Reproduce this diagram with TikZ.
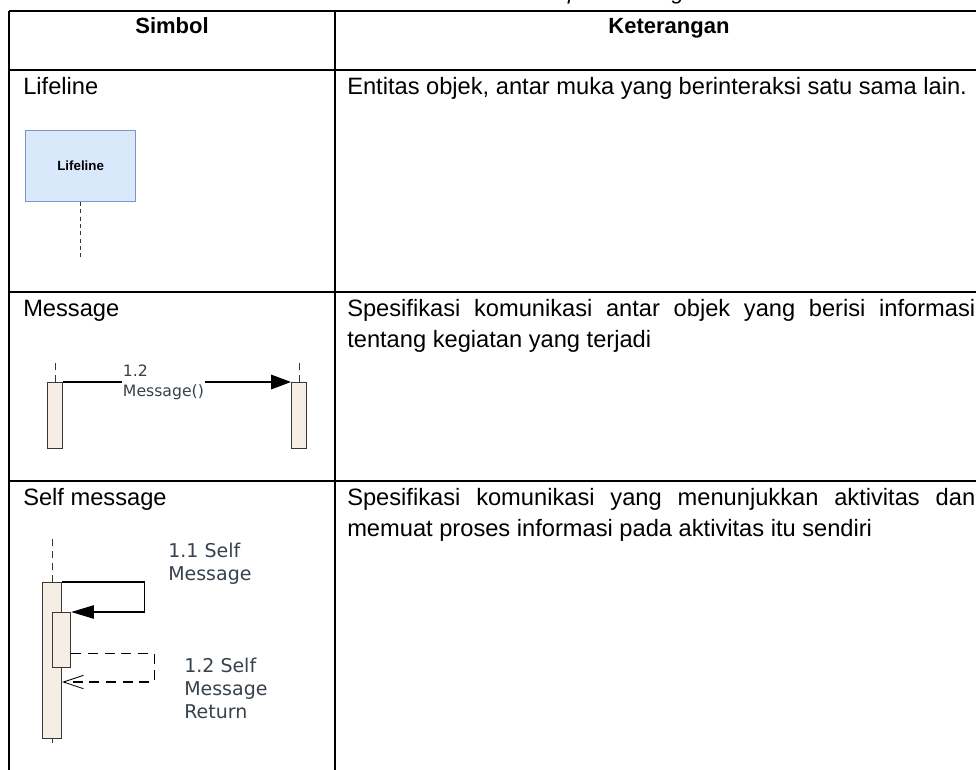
\documentclass[tikz,border=0pt]{standalone}
\usepackage{fontspec}
\setmainfont{Liberation Sans}
\newfontfamily\umlfont{DejaVu Sans}
\usetikzlibrary{arrows.meta,calc}
\definecolor{llfill}{RGB}{218,232,252}
\definecolor{lldraw}{RGB}{120,150,200}
\definecolor{actfill}{RGB}{246,238,228}
\definecolor{actdraw}{RGB}{55,55,55}
\definecolor{msgtext}{RGB}{55,65,75}

\begin{document}
\begin{tikzpicture}[x=0.75pt,y=0.75pt,yscale=-1,xscale=1,
    grid/.style={line width=1.6pt},
    cell/.style={anchor=base west,inner sep=0pt,font=\fontsize{17.75}{23.25}\selectfont},
    desc/.style={cell,text width=471pt,align=justify},
    actbar/.style={draw=actdraw,fill=actfill,line width=0.9pt,inner sep=0pt,anchor=north west},
    lifedash/.style={draw=actdraw,dash pattern=on 5pt off 4pt,line width=0.8pt},
    msglabel/.style={inner sep=0.75pt,text=msgtext,align=left}]
        \useasboundingbox (0,0) rectangle (976,769);
        % Caption, cut by the top edge
        \draw (580,-1) node (caption) [anchor=base][inner sep=0pt] [font=\fontsize{16.5}{20}\selectfont\itshape] {Tabel 2.4 Sequence Diagram};
        %Table rules
        \draw [grid] (9,11) -- (1003,11) ;
        \draw [grid] (9,70) -- (1003,70) ;
        \draw [grid] (9,292) -- (1003,292) ;
        \draw [grid] (9,481) -- (1003,481) ;
        \draw [grid] (9,11) -- (9,780) ;
        \draw [grid] (335,11) -- (335,780) ;
        % Header
        \draw (172,33) node (hsimbol) [cell,anchor=base] [font=\fontsize{16.5}{20}\selectfont\bfseries] {Simbol};
        \draw (669,33) node (hket) [cell,anchor=base] [font=\fontsize{16.5}{20}\selectfont\bfseries] {Keterangan};
        % Row: Lifeline
        \draw (23,94) node (tlifeline) [cell] {Lifeline};
        \draw (347,94) node (dlifeline) [desc] {Entitas objek, antar muka yang berinteraksi satu sama lain.};
        \draw (25,130) node (llbox) [draw=lldraw,fill=llfill,line width=1pt,anchor=north west,minimum width=82.5pt,minimum height=53pt] [font=\fontsize{10}{12}\selectfont\bfseries] {Lifeline};
        \draw [lifedash,dash pattern=on 3pt off 2.5pt] (llbox.south) -- ++(0,58) coordinate (llend) ;
        % Row: Message
        \draw (23,316) node (tmessage) [cell] {Message};
        \draw (347,316) node (dmessage) [desc] {Spesifikasi komunikasi antar objek yang berisi informasi\linebreak tentang kegiatan yang terjadi};
        \draw (47,382) node (lbar) [actbar,minimum width=11.25pt,minimum height=49.5pt] {};
        \draw (291,382) node (rbar) [actbar,minimum width=11.25pt,minimum height=49.5pt] {};
        \draw [lifedash] (lbar.north) -- ++(0,-22) ;
        \draw [lifedash] (rbar.north) -- ++(0,-22) ;
        \draw [line width=0.9pt,-{Triangle[length=15pt,width=11pt]}] (lbar.north east) -- (rbar.north west)
            node (msg) [msglabel,fill=white,pos=0.44] [font=\umlfont\fontsize{11.75}{15}\selectfont] {1.2\\Message()};
        % Row: Self message
        \draw (23,505) node (tself) [cell] {Self message};
        \draw (347,505) node (dself) [desc] {Spesifikasi komunikasi yang menunjukkan aktivitas dan\linebreak memuat proses informasi pada aktivitas itu sendiri};
        \draw (42,582) node (sbar) [actbar,minimum width=14.25pt,minimum height=117pt] {};
        \draw (52,612) node (nbar) [actbar,minimum width=13.5pt,minimum height=41.25pt] {};
        \draw [lifedash] (sbar.north) -- ++(0,-44) ;
        \draw [line width=0.9pt,draw=actdraw] (sbar.south) -- ++(0,4) ;
        \draw [line width=0.9pt,-{Triangle[length=17pt,width=10pt]}] (sbar.north east) -- ++(82,0) |- (nbar.north east) ;
        \draw [line width=0.9pt,dash pattern=on 7.5pt off 5pt,-{Straight Barb[length=15pt,width=10pt,line width=0.6pt]}]
            ($(nbar.south east)+(0,-15)$) -- ++(83,0) |- ($(sbar.north east)+(0,100)$) ;
        \draw (167,542) node (self) [msglabel,anchor=north west] [font=\umlfont\fontsize{14.25}{17.25}\selectfont] {1.1 Self\\Message};
        \draw (183,657) node (selfret) [msglabel,anchor=north west] [font=\umlfont\fontsize{14.25}{17.25}\selectfont] {1.2 Self\\Message\\Return};
\end{tikzpicture}
\end{document}
